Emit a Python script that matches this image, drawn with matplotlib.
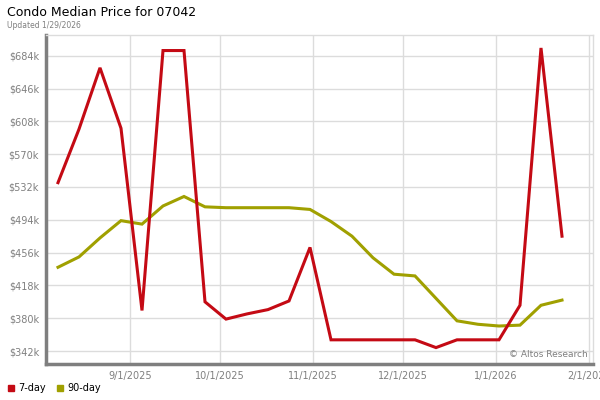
import numpy as np
import pandas as pd
import matplotlib
matplotlib.use("Agg")
import matplotlib.pyplot as plt
import matplotlib.dates as mdates
from matplotlib.lines import Line2D

# weekly points
dates = pd.date_range("2025-08-08", periods=25, freq="7D")
day7 = [537, 599, 670, 600, 389, 690, 690, 399, 379, 385, 390, 400, 462,
        355, 355, 355, 355, 355, 346, 355, 355, 355, 395, 693, 475]
day90 = [439, 451, 473, 493, 489, 510, 521, 509, 508, 508, 508, 508, 506,
         492, 475, 450, 431, 429, 403, 377, 373, 371, 372, 395, 401]

yticks = [342, 380, 418, 456, 494, 532, 570, 608, 646, 684]
xticks = ["2025-09-01", "2025-10-01", "2025-11-01", "2025-12-01", "2026-01-01", "2026-02-01"]

red = "#c40a14"
olive = "#a0a000"
gray = "#7f7f7f"

fig = plt.figure(figsize=(6, 4), dpi=100)
ax = fig.add_axes([46 / 600, 1 - 364 / 400, (593 - 46) / 600, (364 - 35) / 400])

ax.plot(dates, day90, color=olive, lw=2.2, solid_joinstyle="miter", zorder=3)
ax.plot(dates, day7, color=red, lw=2.2, solid_joinstyle="miter", zorder=4)

ax.set_ylim(327, 708)
ax.set_xlim(pd.Timestamp("2025-08-04"), pd.Timestamp("2026-02-02 08:00"))
ax.set_yticks(yticks)
ax.set_yticklabels([f"${v}k" for v in yticks])
ax.set_xticks(pd.to_datetime(xticks))
ax.set_xticklabels([f"{d.month}/{d.day}/{d.year}" for d in pd.to_datetime(xticks)])

ax.grid(True, color="#dcdcdc", lw=1)
ax.set_axisbelow(True)
ax.tick_params(length=0, labelsize=7, labelcolor=gray, pad=5)
for s in ["left", "bottom"]:
    ax.spines[s].set_color(gray)
    ax.spines[s].set_linewidth(2.5)
for s in ["top", "right"]:
    ax.spines[s].set_color("#dcdcdc")
    ax.spines[s].set_linewidth(1)

ax.text(0.99, 0.015, "\u00a9 Altos Research", transform=ax.transAxes, ha="right", va="bottom",
        fontsize=6.5, color=gray)

fig.text(7 / 600, 1 - 12 / 400, "Condo Median Price for 07042", fontsize=9, va="center", ha="left")
fig.text(7 / 600, 1 - 25 / 400, "Updated 1/29/2026", fontsize=5.5, va="center", ha="left", color=gray)

handles = [Line2D([], [], color=red, marker="s", ls="", ms=5),
           Line2D([], [], color=olive, marker="s", ls="", ms=5)]
fig.legend(handles, ["7-day", "90-day"], loc="lower left", bbox_to_anchor=(0, 0.0), ncol=2,
           frameon=False, fontsize=7, handlelength=0.8, handletextpad=0.4, columnspacing=1.0,
           borderaxespad=0.3)

fig.savefig("out.png", dpi=100)
